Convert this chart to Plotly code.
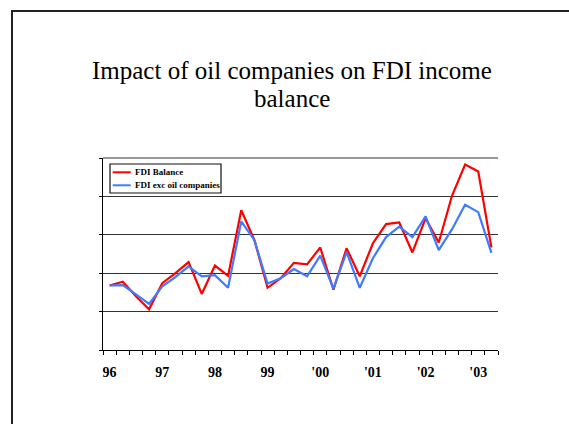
import plotly.graph_objects as go

# Quarterly FDI income balance, 1996 Q1 to 2003 Q2
quarters = [f"{y} Q{q}" for y in range(1996, 2004) for q in range(1, 5)][:30]
fdi_balance = [1.68, 1.78, 1.40, 1.06, 1.74, 2.00, 2.29, 1.46, 2.20, 1.93,
               3.64, 2.86, 1.62, 1.87, 2.27, 2.23, 2.67, 1.57, 2.65, 1.92,
               2.78, 3.28, 3.32, 2.54, 3.43, 2.80, 4.01, 4.83, 4.65, 2.67]
fdi_exc_oil = [1.68, 1.69, 1.45, 1.20, 1.66, 1.90, 2.18, 1.92, 1.95, 1.62,
               3.35, 2.86, 1.73, 1.87, 2.11, 1.92, 2.46, 1.60, 2.55, 1.62,
               2.39, 2.94, 3.21, 2.94, 3.48, 2.60, 3.14, 3.78, 3.59, 2.53]
series_names = ["FDI Balance", "FDI exc oil companies"]
series_colors = ["#ff0000", "#3f7bff"]
year_labels = ["96", "97", "98", "99", "'00", "'01", "'02", "'03"]

x_idx = list(range(len(quarters)))
year_ticks = x_idx[::4]

# plot area in pixels: left 103, right 498, top 158, bottom 350
L, R, T, B = 103, 498, 158, 350
W, H = R - L, B - T


def px(xp):
    return (xp - L) / W


def py(yp):
    return (B - yp) / H


fig = go.Figure()
for name, vals, col in zip(series_names, [fdi_balance, fdi_exc_oil], series_colors):
    fig.add_trace(go.Scatter(x=x_idx, y=vals, mode="lines", name=name,
                             line=dict(color=col, width=2.2), showlegend=False,
                             hovertext=quarters))

serif = "Liberation Serif, Times New Roman, serif"

shapes = [
    # page frame
    dict(type="rect", xref="paper", yref="paper", x0=px(12), x1=1.6,
         y0=-1.0, y1=py(11), line=dict(color="#222", width=2)),
    # top gridline (at the upper edge of the plot area)
    dict(type="line", xref="paper", yref="paper", x0=0, x1=1, y0=1, y1=1,
         line=dict(color="#333", width=1)),
    # legend box
    dict(type="rect", xref="paper", yref="paper", x0=px(110), x1=px(221),
         y0=py(193), y1=py(164), line=dict(color="#111", width=1.2),
         fillcolor="white"),
]
annotations = [
    dict(text="Impact of oil companies on FDI income", xref="paper", yref="paper",
         x=px(292), y=py(70), showarrow=False, xanchor="center", yanchor="middle",
         font=dict(family=serif, size=25, color="black")),
    dict(text="balance", xref="paper", yref="paper",
         x=px(292), y=py(98.5), showarrow=False, xanchor="center", yanchor="middle",
         font=dict(family=serif, size=25, color="black")),
]
for i, (name, col) in enumerate(zip(series_names, series_colors)):
    yy = 172.3 + 13 * i
    shapes.append(dict(type="line", xref="paper", yref="paper",
                       x0=px(112.7), x1=px(130.7), y0=py(yy), y1=py(yy),
                       line=dict(color=col, width=2)))
    annotations.append(dict(text=f"<b>{name}</b>", xref="paper", yref="paper",
                            x=px(133), y=py(yy), showarrow=False,
                            xanchor="left", yanchor="middle",
                            font=dict(family=serif, size=9, color="black")))

fig.update_layout(
    width=569, height=424,
    margin=dict(l=L, r=569 - R, t=T, b=424 - B),
    paper_bgcolor="white", plot_bgcolor="white",
    shapes=shapes, annotations=annotations,
    showlegend=False,
    xaxis=dict(range=[-0.5, len(quarters) - 0.5], tickvals=year_ticks,
               ticktext=year_labels, ticks="", showgrid=False, zeroline=False,
               showline=True, linecolor="black", linewidth=1,
               tickfont=dict(family=serif, size=14, color="black", weight="bold"),
               ticklabelstandoff=9,
               minor=dict(ticks="outside", ticklen=4, tickcolor="black",
                          tick0=-0.5, dtick=1, showgrid=False)),
    yaxis=dict(range=[0, 5], dtick=1, showticklabels=False, ticks="outside",
               ticklen=3, tickcolor="black", showgrid=True, gridcolor="#333",
               gridwidth=1, zeroline=False, showline=True, linecolor="black",
               linewidth=1),
)

fig.write_html("out.html")
